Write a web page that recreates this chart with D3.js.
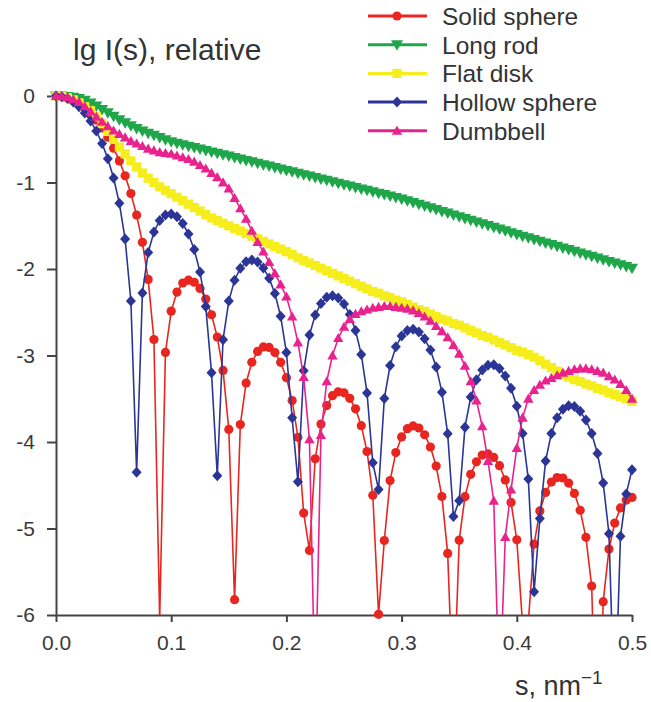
<!DOCTYPE html>
<html>
<head>
<meta charset="utf-8">
<script src="https://cdn.jsdelivr.net/npm/d3@7"></script>
<style>
  body { margin: 0; background: #ffffff; }
  text { font-family: Arial, "Liberation Sans", sans-serif; }
</style>
</head>
<body>
<script>
// s grid, nm^-1
const sValues = [
  0, 0.005, 0.01, 0.015, 0.02, 0.025, 0.03, 0.035, 0.04, 0.045,
  0.05, 0.055, 0.06, 0.065, 0.07, 0.075, 0.08, 0.085, 0.09, 0.095,
  0.1, 0.105, 0.11, 0.115, 0.12, 0.125, 0.13, 0.135, 0.14, 0.145,
  0.15, 0.155, 0.16, 0.165, 0.17, 0.175, 0.18, 0.185, 0.19, 0.195,
  0.2, 0.205, 0.21, 0.215, 0.22, 0.225, 0.23, 0.235, 0.24, 0.245,
  0.25, 0.255, 0.26, 0.265, 0.27, 0.275, 0.28, 0.285, 0.29, 0.295,
  0.3, 0.305, 0.31, 0.315, 0.32, 0.325, 0.33, 0.335, 0.34, 0.345,
  0.35, 0.355, 0.36, 0.365, 0.37, 0.375, 0.38, 0.385, 0.39, 0.395,
  0.4, 0.405, 0.41, 0.415, 0.42, 0.425, 0.43, 0.435, 0.44, 0.445,
  0.45, 0.455, 0.46, 0.465, 0.47, 0.475, 0.48, 0.485, 0.49, 0.495, 0.5
];

const solidSphere = [
  0, -0.005, -0.022, -0.049, -0.088, -0.139, -0.202, -0.279, -0.370, -0.477,
  -0.603, -0.750, -0.923, -1.128, -1.377, -1.692, -2.120, -2.815, -6.042, -2.964,
  -2.487, -2.267, -2.162, -2.129, -2.153, -2.225, -2.348, -2.529, -2.787, -3.172,
  -3.855, -5.823, -3.798, -3.318, -3.078, -2.953, -2.901, -2.907, -2.966, -3.079,
  -3.256, -3.520, -3.945, -4.822, -5.253, -4.194, -3.793, -3.579, -3.465, -3.420,
  -3.431, -3.495, -3.617, -3.811, -4.110, -4.617, -5.992, -5.139, -4.446, -4.122,
  -3.941, -3.846, -3.814, -3.838, -3.916, -4.058, -4.278, -4.630, -5.288, -7.069,
  -5.135, -4.632, -4.374, -4.229, -4.151, -4.138, -4.178, -4.274, -4.439, -4.699,
  -5.131, -6.108, -6.077, -5.180, -4.797, -4.583, -4.463, -4.411, -4.416, -4.475,
  -4.594, -4.789, -5.102, -5.666, -7.949, -5.846, -5.238, -4.937, -4.762, -4.671, -4.641
];

const longRod = [
  0, 0, -0.005, -0.015, -0.03, -0.05, -0.08, -0.115, -0.155, -0.195,
  -0.235, -0.275, -0.31, -0.345, -0.375, -0.405, -0.43, -0.455, -0.48, -0.505,
  -0.53, -0.547, -0.563, -0.58, -0.596, -0.612, -0.629, -0.646, -0.662, -0.679,
  -0.695, -0.712, -0.728, -0.745, -0.761, -0.778, -0.794, -0.81, -0.827, -0.843,
  -0.86, -0.876, -0.893, -0.909, -0.926, -0.942, -0.959, -0.975, -0.992, -1.008,
  -1.025, -1.041, -1.058, -1.074, -1.091, -1.107, -1.124, -1.14, -1.157, -1.173,
  -1.19, -1.21, -1.231, -1.252, -1.272, -1.293, -1.313, -1.334, -1.354, -1.375,
  -1.395, -1.416, -1.436, -1.457, -1.477, -1.498, -1.518, -1.539, -1.559, -1.58,
  -1.60, -1.62, -1.639, -1.659, -1.678, -1.698, -1.717, -1.737, -1.756, -1.776,
  -1.795, -1.815, -1.834, -1.854, -1.873, -1.893, -1.912, -1.932, -1.951, -1.971, -1.99
];

const flatDisk = [
  0, -0.005, -0.02, -0.045, -0.08, -0.125, -0.17, -0.24, -0.32, -0.41,
  -0.50, -0.59, -0.67, -0.75, -0.82, -0.89, -0.95, -1.00, -1.05, -1.09,
  -1.13, -1.17, -1.21, -1.25, -1.29, -1.33, -1.37, -1.41, -1.44, -1.47,
  -1.50, -1.53, -1.56, -1.59, -1.62, -1.65, -1.68, -1.71, -1.74, -1.77,
  -1.80, -1.83, -1.87, -1.90, -1.93, -1.96, -1.99, -2.02, -2.05, -2.08,
  -2.11, -2.14, -2.17, -2.20, -2.23, -2.26, -2.28, -2.31, -2.33, -2.36,
  -2.38, -2.41, -2.44, -2.47, -2.49, -2.52, -2.55, -2.58, -2.60, -2.63,
  -2.65, -2.68, -2.71, -2.74, -2.77, -2.79, -2.82, -2.85, -2.88, -2.91,
  -2.94, -2.96, -2.99, -3.02, -3.06, -3.10, -3.14, -3.18, -3.22, -3.25,
  -3.28, -3.30, -3.33, -3.35, -3.38, -3.40, -3.43, -3.45, -3.48, -3.50, -3.53
];

const hollowSphere = [
  0, -0.008, -0.030, -0.069, -0.124, -0.197, -0.290, -0.405, -0.548, -0.725,
  -0.948, -1.241, -1.654, -2.370, -4.35, -2.277, -1.810, -1.572, -1.440, -1.377,
  -1.365, -1.397, -1.473, -1.596, -1.776, -2.034, -2.434, -3.198, -4.39, -2.817,
  -2.371, -2.129, -1.990, -1.917, -1.895, -1.919, -1.988, -2.106, -2.283, -2.546,
  -2.966, -3.72, -4.46, -3.177, -2.764, -2.533, -2.398, -2.328, -2.309, -2.334,
  -2.406, -2.527, -2.712, -2.987, -3.434, -4.24, -4.55, -3.497, -3.116, -2.900,
  -2.774, -2.710, -2.697, -2.729, -2.807, -2.936, -3.132, -3.424, -3.906, -4.86,
  -4.68, -3.829, -3.480, -3.281, -3.167, -3.113, -3.108, -3.150, -3.237, -3.378,
  -3.587, -3.903, -4.429, -5.73, -4.883, -4.219, -3.901, -3.721, -3.622, -3.581,
  -3.590, -3.644, -3.746, -3.903, -4.133, -4.474, -5.06, -7.2, -5.09, -4.60, -4.32
];

const dumbbell = [
  0, -0.004, -0.015, -0.04, -0.07, -0.12, -0.18, -0.24, -0.30, -0.35,
  -0.40, -0.44, -0.48, -0.52, -0.55, -0.58, -0.61, -0.63, -0.65, -0.66,
  -0.67, -0.69, -0.71, -0.73, -0.76, -0.80, -0.84, -0.89, -0.94, -1.00,
  -1.07, -1.18, -1.30, -1.42, -1.56, -1.69, -1.80, -1.92, -2.05, -2.18,
  -2.32, -2.55, -2.85, -3.25, -3.97, -7.0, -3.92, -3.30, -3.00, -2.80,
  -2.67, -2.58, -2.52, -2.49, -2.47, -2.45, -2.44, -2.43, -2.43, -2.44,
  -2.45, -2.46, -2.48, -2.51, -2.55, -2.60, -2.66, -2.72, -2.79, -2.88,
  -2.98, -3.12, -3.30, -3.52, -3.82, -4.22, -4.68, -7.0, -5.10, -4.55,
  -4.07, -3.72, -3.50, -3.40, -3.34, -3.29, -3.26, -3.23, -3.20, -3.18,
  -3.16, -3.15, -3.15, -3.16, -3.18, -3.20, -3.24, -3.28, -3.33, -3.40, -3.50
];

const seriesNames = ["Solid sphere", "Long rod", "Flat disk", "Hollow sphere", "Dumbbell"];
const xTicks = [0, 0.1, 0.2, 0.3, 0.4, 0.5];
const yTicks = [0, -1, -2, -3, -4, -5, -6];

const width = 651;
const height = 702;

// marker shapes (size = half extent in px)
const dot = { draw(c, r) { c.moveTo(r, 0); c.arc(0, 0, r, 0, 2 * Math.PI); } };
const triDown = { draw(c, r) { c.moveTo(0, r); c.lineTo(r, -r * 0.75); c.lineTo(-r, -r * 0.75); c.closePath(); } };
const triUp = { draw(c, r) { c.moveTo(0, -r); c.lineTo(r, r * 0.75); c.lineTo(-r, r * 0.75); c.closePath(); } };
const square = { draw(c, r) { c.rect(-r, -r, 2 * r, 2 * r); } };
const diamond = { draw(c, r) { c.moveTo(0, -r * 1.1); c.lineTo(r, 0); c.lineTo(0, r * 1.1); c.lineTo(-r, 0); c.closePath(); } };

const series = [
  { name: seriesNames[0], values: solidSphere, color: "#e8261f", shape: dot, r: 4.6 },
  { name: seriesNames[1], values: longRod, color: "#1fa64a", shape: triDown, r: 6 },
  { name: seriesNames[2], values: flatDisk, color: "#f5ee1c", shape: square, r: 4.6 },
  { name: seriesNames[3], values: hollowSphere, color: "#2b3596", shape: diamond, r: 5 },
  { name: seriesNames[4], values: dumbbell, color: "#e9238e", shape: triUp, r: 5.2 }
];

const svg = d3.select("body").append("svg")
  .attr("width", width)
  .attr("height", height);

const x = d3.scaleLinear().domain([0, 0.5]).range([56, 632]);
const y = d3.scaleLinear().domain([-6, 0]).range([615, 96]);

svg.append("clipPath").attr("id", "plotclip")
  .append("rect")
  .attr("x", 0).attr("y", 0)
  .attr("width", width).attr("height", y(-6));

// axes
const yAxis = svg.append("g")
  .attr("transform", "translate(" + x(0) + ",0)")
  .call(d3.axisLeft(y).tickValues(yTicks).tickSize(9).tickSizeOuter(0).tickPadding(12)
    .tickFormat(d => String(d)));

const xAxis = svg.append("g")
  .attr("transform", "translate(0," + y(-6) + ")")
  .call(d3.axisBottom(x).tickValues(xTicks).tickSize(7).tickSizeOuter(0).tickPadding(13)
    .tickFormat(d3.format(".1f")));

[xAxis, yAxis].forEach(g => {
  g.attr("font-size", null);
  g.select(".domain").attr("stroke", "#444").attr("stroke-width", 2);
  g.selectAll(".tick line").attr("stroke", "#444").attr("stroke-width", 2);
  g.selectAll(".tick text")
    .attr("fill", "#3a3a3a")
    .style("font-size", "21px")
    .style("font-family", "Arial, 'Liberation Sans', sans-serif");
});

// curves
const line = d3.line()
  .x((d, i) => x(sValues[i]))
  .y(d => y(d));

series.forEach(sr => {
  svg.append("path")
    .datum(sr.values)
    .attr("clip-path", "url(#plotclip)")
    .attr("fill", "none")
    .attr("stroke", sr.color)
    .attr("stroke-width", 1.6)
    .attr("d", line);

  svg.append("g")
    .selectAll("path")
    .data(sr.values.map((v, i) => ({ s: sValues[i], v: v })).filter(d => d.v >= -6.02))
    .join("path")
    .attr("transform", d => "translate(" + x(d.s) + "," + y(d.v) + ")")
    .attr("d", d3.symbol().type(sr.shape).size(sr.r))
    .attr("fill", sr.color);
});

// title
svg.append("text")
  .attr("x", 73)
  .attr("y", 60)
  .attr("fill", "#333")
  .style("font-size", "30px")
  .text("lg I(s), relative");

// x label
const xl = svg.append("text")
  .attr("x", 515)
  .attr("y", 695)
  .attr("fill", "#333")
  .style("font-size", "27px");
xl.append("tspan").text("s, nm");
xl.append("tspan").attr("dy", -11).style("font-size", "19px").text("\u22121");

// legend
const legend = svg.append("g");
series.forEach((sr, i) => {
  const ly = 16 + i * 28.7;
  legend.append("line")
    .attr("x1", 368).attr("x2", 427)
    .attr("y1", ly).attr("y2", ly)
    .attr("stroke", sr.color)
    .attr("stroke-width", 3);
  legend.append("path")
    .attr("transform", "translate(397," + ly + ")")
    .attr("d", d3.symbol().type(sr.shape).size(sr.r))
    .attr("fill", sr.color);
  legend.append("text")
    .attr("x", 442)
    .attr("y", ly)
    .attr("dy", "0.36em")
    .attr("fill", "#333")
    .style("font-size", "24.5px")
    .text(sr.name);
});
</script>
</body>
</html>
